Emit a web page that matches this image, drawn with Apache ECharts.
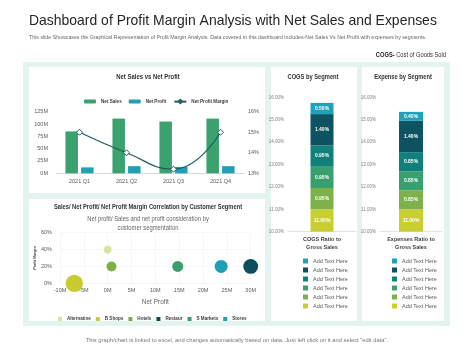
<!DOCTYPE html>
<html><head><meta charset="utf-8">
<script src="https://cdn.jsdelivr.net/npm/echarts@6/dist/echarts.min.js"></script>
<style>html,body{margin:0;padding:0;background:#fff}#c{width:474px;height:355px}</style>
</head><body><div id="c"></div>
<script>
// ---- data ----
const quarters = ['2021 Q1', '2021 Q2', '2021 Q3', '2021 Q4'];
const netSales = [85, 111, 105, 111];          // M
const netProfit = [12, 14.5, 13, 14.5];        // M
const netProfitMargin = [15.0, 14.0, 13.2, 15.0]; // %

const segments = ['Alternative', 'B Shops', 'Hotels', 'Restaur', 'S Markets', 'Stores'];
const segNetProfit = [0, -7, 0.8, 30, 14.7, 23.8];   // M
const segMargin = [0.40, 0.00, 0.20, 0.20, 0.20, 0.20];
const segSales = [15, 75, 25, 55, 30, 42];          // bubble size
const segColors = ['#dce39c', '#c8cc2e', '#7db144', '#0d4e5b', '#37a06e', '#1f9fb6'];

const stackNames = ['Seg 1', 'Seg 2', 'Seg 3', 'Seg 4', 'Seg 5', 'Seg 6'];
const stackLegendLabel = 'Add Text Here';
const cogsValues = [11.00, 0.95, 0.95, 0.95, 1.40, 0.50];
const expenseValues = [11.00, 0.85, 0.85, 0.85, 1.40, 0.40];
const stackColors = ['#c9cf30', '#7db14a', '#37a06e', '#11807a', '#0d5361', '#1fa1b7'];
const cogsCategory = ['COGS Ratio to\nGross Sales'];
const expCategory = ['Expenses Ratio to\nGross Sales'];

// ---- helpers ----
const FONT = '"Liberation Sans", Arial, sans-serif';
function txt(x, y, text, size, weight, color, align, sx) {
  return { type: 'text', x: x, y: y, scaleX: sx || 1, z: 10,
    style: { text: text, x: 0, y: 0, fontSize: size, fontWeight: weight, fontFamily: FONT,
      fill: color, textAlign: align, textVerticalAlign: 'middle' } };
}
function rect(x, y, w, h, color) {
  return { type: 'rect', z: -10, shape: { x: x, y: y, width: w, height: h }, style: { fill: color } };
}
const axisLbl = { fontSize: 5.5, color: '#595959', fontFamily: FONT };

const chart = echarts.init(document.getElementById('c'));

const series = [
  { name: 'Net Sales', type: 'bar', xAxisIndex: 0, yAxisIndex: 0, data: netSales,
    barWidth: 12.5, barGap: '25%', itemStyle: { color: '#3aa26f' } },
  { name: 'Net Profit', type: 'bar', xAxisIndex: 0, yAxisIndex: 0, data: netProfit,
    barWidth: 12.5, itemStyle: { color: '#21a0b5' } },
  { name: 'Net Profit Margin', type: 'line', xAxisIndex: 0, yAxisIndex: 1, data: netProfitMargin,
    smooth: true, symbol: 'diamond', symbolSize: 6,
    lineStyle: { color: '#1f5c5c', width: 1.2 },
    itemStyle: { color: '#ffffff', borderColor: '#1f5c5c', borderWidth: 1 } }
];
segments.forEach((s, i) => {
  series.push({ name: s, type: 'scatter', xAxisIndex: 1, yAxisIndex: 2,
    data: [[segNetProfit[i], segMargin[i], segSales[i]]],
    symbolSize: d => Math.sqrt(d[2]) * 2,
    itemStyle: { color: segColors[i], opacity: 1 } });
});
function stackSeries(prefix, vals, stack, xi, yi, bw) {
  vals.forEach((v, i) => {
    series.push({ name: prefix + stackNames[i], type: 'bar', stack: stack, xAxisIndex: xi, yAxisIndex: yi,
      data: [v], barWidth: bw, itemStyle: { color: stackColors[i] },
      label: { show: true, position: 'inside', color: '#fff', fontWeight: 'bold', fontSize: 5,
        fontFamily: FONT, formatter: p => p.value.toFixed(2) + '%' } });
  });
}
stackSeries('COGS ', cogsValues, 'cogs', 2, 3, 23);
stackSeries('Exp ', expenseValues, 'exp', 3, 4, 24);

const pctAxis = (gi) => ({ type: 'value', gridIndex: gi, min: 10, max: 16, interval: 1,
  axisLine: { show: false }, axisTick: { show: false }, splitLine: { show: false },
  axisLabel: { fontSize: 4.5, color: '#7f7f7f', margin: 4, fontFamily: FONT, formatter: v => v.toFixed(2) + '%' } });
const catAxis = (gi, data) => ({ type: 'category', gridIndex: gi, data: data,
  axisLine: { lineStyle: { color: '#e3e3e3' } }, axisTick: { show: false },
  axisLabel: { fontSize: 5.5, fontWeight: 'bold', color: '#404040', lineHeight: 8, margin: 4, fontFamily: FONT } });

const option = {
  backgroundColor: '#ffffff',
  animation: false,
  graphic: { elements: [
    rect(23, 62, 427, 264, '#e2f3f0'),
    rect(29, 67, 236, 126, '#ffffff'),
    rect(29, 199, 236, 122, '#ffffff'),
    rect(271, 67, 86, 254, '#ffffff'),
    rect(362, 67, 82, 254, '#ffffff'),
    txt(29, 21, 'Dashboard of Profit Margin Analysis with Net Sales and Expenses', 15, 'normal', '#262626', 'left', 0.93),
    txt(29, 37.5, 'This slide Showcases the Graphical Representation of Profit Margin Analysis. Data covered in this dashboard includes-Net Sales Vs Net Profit with expenses by segments.', 5.25, 'normal', '#666666', 'left', 1),
    { type: 'text', x: 446, y: 55, scaleX: 0.82, z: 10,
      style: { text: '{b|COGS-} Cost of Goods Sold', x: 0, y: 0, fontSize: 7, fontFamily: FONT, fill: '#333',
        textAlign: 'right', textVerticalAlign: 'middle', rich: { b: { fontWeight: 'bold', fontSize: 7, fill: '#262626' } } } },
    txt(148, 77, 'Net Sales vs Net Profit', 7, 'bold', '#333333', 'center', 0.85),
    txt(148, 207, 'Sales/ Net Profit/ Net Profit Margin Correlation by Customer Segment', 7, 'bold', '#333333', 'center', 0.82),
    txt(148, 219, 'Net profit/ Sales and net profit consideration by', 6.5, 'normal', '#666666', 'center', 0.9),
    txt(148, 228, 'customer segmentation', 6.5, 'normal', '#666666', 'center', 0.9),
    txt(313, 77, 'COGS by Segment', 7, 'bold', '#333333', 'center', 0.82),
    txt(403, 77, 'Expense by Segment', 7, 'bold', '#333333', 'center', 0.82),
    txt(237, 340, 'This graph/chart is linked to excel, and changes automatically based on data. Just left click on it and select "edit data".', 5.8, 'normal', '#777777', 'center', 1)
  ] },
  grid: [
    { left: 56, top: 111.7, width: 188, height: 61.6 },
    { left: 60, top: 232.7, width: 190.7, height: 50.6 },
    { left: 288, top: 97.3, width: 68, height: 134.4 },
    { left: 380, top: 97.3, width: 62, height: 134.4 }
  ],
  xAxis: [
    { type: 'category', gridIndex: 0, data: quarters, axisLine: { lineStyle: { color: '#d9d9d9' } },
      axisTick: { show: false }, axisLabel: Object.assign({ margin: 5 }, axisLbl) },
    { type: 'value', gridIndex: 1, min: -10, max: 30, interval: 5,
      axisLine: { show: false }, axisTick: { show: false },
      splitLine: { lineStyle: { color: '#f2f2f2', width: 0.6 } },
      axisLabel: Object.assign({ margin: 4, formatter: v => v + 'M' }, axisLbl),
      name: 'Net Profit', nameLocation: 'middle', nameGap: 15,
      nameTextStyle: { fontSize: 6.5, color: '#666666', fontFamily: FONT } },
    catAxis(2, cogsCategory),
    catAxis(3, expCategory)
  ],
  yAxis: [
    { type: 'value', gridIndex: 0, min: 0, max: 125, interval: 25, splitLine: { show: false },
      axisLine: { show: false }, axisTick: { show: false },
      axisLabel: Object.assign({ margin: 8, formatter: v => v + 'M' }, axisLbl) },
    { type: 'value', gridIndex: 0, position: 'right', min: 13, max: 16, interval: 1, splitLine: { show: false },
      axisLine: { show: false }, axisTick: { show: false },
      axisLabel: Object.assign({ margin: 4, formatter: v => v + '%' }, axisLbl) },
    { type: 'value', gridIndex: 1, min: 0, max: 0.6, interval: 0.2,
      axisLine: { show: false }, axisTick: { show: false },
      splitLine: { lineStyle: { color: '#f2f2f2', width: 0.6 } },
      axisLabel: Object.assign({ margin: 8, formatter: v => Math.round(v * 100) + '%' }, axisLbl),
      name: 'Profit Margin', nameLocation: 'middle', nameGap: 22, nameRotate: 90,
      nameTextStyle: { fontSize: 3.8, fontWeight: 'bold', color: '#404040', fontFamily: FONT } },
    pctAxis(2),
    pctAxis(3)
  ],
  legend: [
    { data: ['Net Sales', 'Net Profit', 'Net Profit Margin'], left: 79, top: 94, itemWidth: 12, itemHeight: 4,
      itemGap: 7, textStyle: { fontSize: 4.6, fontWeight: 'bold', color: '#404040', fontFamily: FONT } },
    { data: segments, left: 53, top: 311.5, itemWidth: 4, itemHeight: 4, itemGap: 5, icon: 'rect',
      textStyle: { fontSize: 4.6, fontWeight: 'bold', color: '#404040', fontFamily: FONT } },
    { data: stackNames.map(n => 'COGS ' + n).reverse(), orient: 'vertical', left: 298, top: 253,
      itemWidth: 5, itemHeight: 5, itemGap: 3, icon: 'rect', formatter: () => stackLegendLabel,
      textStyle: { fontSize: 5.5, color: '#595959', fontFamily: FONT } },
    { data: stackNames.map(n => 'Exp ' + n).reverse(), orient: 'vertical', left: 387, top: 253,
      itemWidth: 5, itemHeight: 5, itemGap: 3, icon: 'rect', formatter: () => stackLegendLabel,
      textStyle: { fontSize: 5.5, color: '#595959', fontFamily: FONT } }
  ],
  series: series
};
chart.setOption(option);
</script></body></html>
